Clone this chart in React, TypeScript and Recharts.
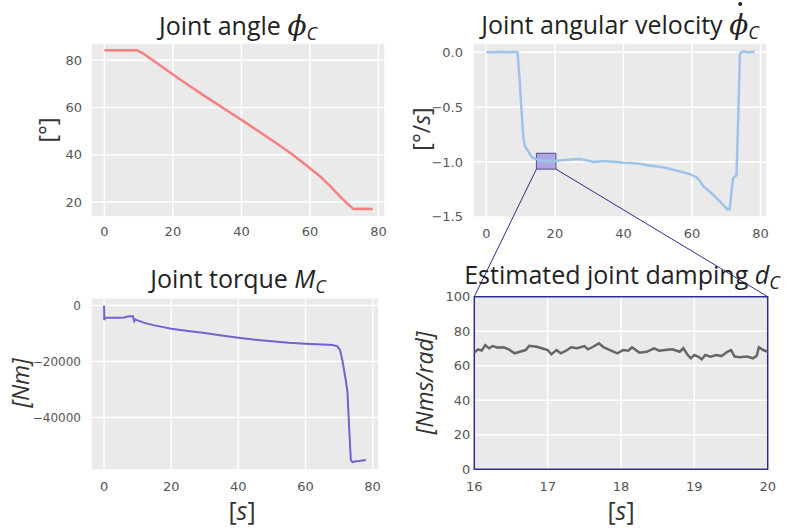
import React from 'react';
import { LineChart, Line, XAxis, YAxis, CartesianGrid, ReferenceArea } from 'recharts';

// ---- data ----
const angleT = [0, 4, 9.5, 11, 13, 15, 20, 25, 30, 35, 40, 45, 50, 55, 60, 63, 66, 69, 71, 72.7, 75, 78.3];
const angleDeg = [84.3, 84.3, 84.3, 83.2, 81.2, 79.2, 74, 69, 64.2, 59.5, 54.8, 50, 45.1, 40, 34.3, 30.8, 26.6, 22, 19.2, 17, 17.1, 17];

const velT = [0, 2, 4, 6, 8, 9.1, 9.6, 10.2, 10.8, 11.3, 12, 12.7, 13.5, 14.7, 16, 17, 18, 19, 20.5, 22, 24, 25.4, 27.3, 28.5, 30, 31.2, 33, 35, 36, 38, 40, 42, 44.8, 47, 49.7, 52, 54.5, 57, 59.4, 61.3, 62.2, 63.3, 65.2, 67.2, 69.1, 70.3, 71, 71.5, 72, 73, 73.5, 74, 75, 76.5, 78.3];
const velV = [0, 0, 0.005, 0, 0.005, 0, -0.2, -0.5, -0.78, -0.86, -0.89, -0.93, -0.96, -0.975, -0.985, -0.99, -0.985, -0.99, -0.99, -0.985, -0.98, -0.975, -0.972, -0.98, -0.99, -1.0, -0.995, -0.99, -0.995, -1.0, -1.006, -1.01, -1.015, -1.03, -1.04, -1.05, -1.07, -1.09, -1.11, -1.14, -1.17, -1.22, -1.27, -1.33, -1.39, -1.43, -1.43, -1.28, -1.15, -1.12, -0.59, -0.01, 0.01, 0, 0.005];

const torqueT = [0, 0.05, 0.3, 2, 4, 6, 7, 8, 8.6, 9, 9.3, 10, 12, 15, 20, 25, 30, 35, 40, 45, 50, 55, 60, 65, 68, 69.5, 70.3, 71, 72, 72.5, 73, 73.5, 74, 75, 76, 78];
const torqueNm = [0, -5200, -4400, -4400, -4400, -4300, -3900, -3800, -3800, -5600, -5000, -5300, -6200, -7100, -8300, -9100, -9850, -10700, -11500, -12200, -12800, -13300, -13650, -13900, -14100, -14600, -16000, -19600, -26700, -30900, -43400, -55200, -56000, -55700, -55600, -55200];

const dampT = [16, 16.05, 16.1, 16.15, 16.2, 16.25, 16.32, 16.4, 16.47, 16.55, 16.62, 16.7, 16.75, 16.85, 16.92, 17, 17.05, 17.12, 17.18, 17.25, 17.32, 17.4, 17.5, 17.55, 17.62, 17.7, 17.76, 17.85, 17.95, 18.03, 18.1, 18.15, 18.25, 18.35, 18.45, 18.52, 18.6, 18.7, 18.8, 18.85, 18.9, 18.95, 19, 19.05, 19.1, 19.15, 19.22, 19.3, 19.37, 19.45, 19.5, 19.55, 19.62, 19.72, 19.8, 19.85, 19.88, 19.94, 20];
const dampV = [67.6, 69.5, 68.8, 72, 70.1, 71.4, 70.5, 70.7, 69.5, 67.2, 68.1, 69.1, 71.6, 71, 70.1, 69.1, 66.6, 69.1, 67.2, 68.7, 70.7, 70.1, 71.4, 69.5, 71, 73, 70.7, 69.1, 67.2, 69.1, 68.7, 70.7, 67.6, 68.1, 70.1, 68.7, 69.1, 69.5, 68.1, 70.1, 66.8, 64.3, 66.2, 65.3, 63.7, 66.2, 65.3, 66.2, 65.6, 68.1, 69.1, 65.3, 64.9, 65.3, 64.3, 65.8, 70.7, 69.1, 68.1];

const timeTicks = [0, 20, 40, 60, 80];
const angleTicks = [20, 40, 60, 80];
const velTicks = [0, -0.5, -1, -1.5];
const torqueTicks = [0, -20000, -40000];
const zoomTimeTicks = [16, 17, 18, 19, 20];
const zoomTicks = [0, 20, 40, 60, 80, 100];

// zoom window drawn on the velocity plot
const zoomBoxT = [14.6, 20.3];
const zoomBoxV = [-1.065, -0.92];

const zip = (t: number[], v: number[]) => t.map((x, i) => ({ t: x, v: v[i] }));

const BG = '#EAEAEA';
const NAVY = '#2E2E8A';
const FONT = '"Open Sans", sans-serif';
const TICK = { fill: '#555', fontSize: 13, fontFamily: '"DejaVu Sans", sans-serif' };
const YW = 60;
const XH = 30;

type Frame = { left: number; top: number; width: number; height: number };
type Box = { x0: number; y0: number; x1: number; y1: number };

const frames: Record<string, Frame> = {
  tl: { left: 0, top: 0, width: 394, height: 260 },
  tr: { left: 394, top: 0, width: 395, height: 260 },
  bl: { left: 0, top: 260, width: 394, height: 268 },
  br: { left: 394, top: 260, width: 395, height: 268 },
};
const boxes: Record<string, Box> = {
  tl: { x0: 91, y0: 43, x1: 385, y1: 217 },
  tr: { x0: 473, y0: 43, x1: 767, y1: 218.5 },
  bl: { x0: 91, y0: 297.7, x1: 379, y1: 470 },
  br: { x0: 474.3, y0: 296.7, x1: 767.7, y1: 469.3 },
};
const timeDomain: [number, number] = [-3.9, 81.9];
const velDomain: [number, number] = [-1.515, 0.085];

const marginOf = (f: Frame, b: Box) => ({
  left: b.x0 - f.left - YW,
  top: b.y0 - f.top,
  right: f.left + f.width - b.x1,
  bottom: f.top + f.height - b.y1 - XH,
});

const minus = (s: string) => s.replace('-', '\u2212');

const Panel: React.FC<{ k: string; children: React.ReactNode; data: any[] }> = ({ k, children, data }) => {
  const f = frames[k];
  return (
    <div style={{ position: 'absolute', left: f.left, top: f.top }}>
      <LineChart width={f.width} height={f.height} data={data} margin={marginOf(f, boxes[k])}>
        {children}
      </LineChart>
    </div>
  );
};

const Title: React.FC<{ cx: number; base: number; children: React.ReactNode }> = ({ cx, base, children }) => (
  <div
    style={{
      position: 'absolute', left: cx, top: base - 22, transform: 'translateX(-50%)',
      fontFamily: FONT, fontSize: 25, lineHeight: 1, color: '#222', whiteSpace: 'nowrap',
    }}
  >
    {children}
  </div>
);

const Phi: React.FC<{ dot?: boolean }> = ({ dot }) => (
  <span style={{ position: 'relative', fontFamily: '"DejaVu Serif", serif', fontStyle: 'italic', fontSize: 28, lineHeight: 1 }}>
    {'\u03D5'}
    {dot && (
      <span
        style={{
          position: 'absolute', left: '58%', top: -6, width: 4, height: 4, marginLeft: -2,
          borderRadius: 2, background: '#222',
        }}
      />
    )}
  </span>
);
const Sub: React.FC<{ children: React.ReactNode }> = ({ children }) => (
  <span style={{ fontStyle: 'italic', fontSize: 18, verticalAlign: -5, lineHeight: 1 }}>{children}</span>
);

const YLabel: React.FC<{ cx: number; cy: number; children: React.ReactNode }> = ({ cx, cy, children }) => (
  <div
    style={{
      position: 'absolute', left: cx, top: cy, transform: 'translate(-50%, -50%) rotate(-90deg)',
      fontFamily: FONT, fontSize: 23, lineHeight: 1, color: '#333', whiteSpace: 'nowrap',
    }}
  >
    {children}
  </div>
);

const XLabel: React.FC<{ cx: number; cy: number }> = ({ cx, cy }) => (
  <div
    style={{
      position: 'absolute', left: cx, top: cy, transform: 'translate(-50%, -50%)',
      fontFamily: FONT, fontSize: 25, lineHeight: 0.8, color: '#333', whiteSpace: 'nowrap',
    }}
  >
    [<i>s</i>]
  </div>
);

// connector lines from the zoom window to the damping panel
const toPx = (v: number, d: [number, number], a: number, b: number) => a + ((v - d[0]) / (d[1] - d[0])) * (b - a);
const trB = boxes.tr;
const brB = boxes.br;
const zoomLeft = toPx(zoomBoxT[0], timeDomain, trB.x0, trB.x1);
const zoomRight = toPx(zoomBoxT[1], timeDomain, trB.x0, trB.x1);
const zoomBottom = toPx(zoomBoxV[0], [velDomain[1], velDomain[0]], trB.y0, trB.y1);

const grid = <CartesianGrid fill={BG} stroke="#fff" strokeWidth={1.5} strokeDasharray="" />;

export default function App() {
  return (
    <div style={{ position: 'absolute', left: 0, top: 0, width: 789, height: 528, background: '#fff', overflow: 'hidden' }}>
      <Panel k="tl" data={zip(angleT, angleDeg)}>
        {grid}
        <XAxis dataKey="t" type="number" domain={timeDomain} ticks={timeTicks} allowDataOverflow height={XH}
          axisLine={false} tickLine={false} tickSize={0} tickMargin={10} tick={TICK} />
        <YAxis type="number" domain={[13.65, 87.35]} ticks={angleTicks} allowDataOverflow width={YW}
          axisLine={false} tickLine={false} tickSize={0} tickMargin={9} tick={TICK} />
        <Line dataKey="v" stroke="#F77F7F" strokeWidth={2.5} dot={false} isAnimationActive={false} />
      </Panel>

      <Panel k="tr" data={zip(velT, velV)}>
        {grid}
        <XAxis dataKey="t" type="number" domain={timeDomain} ticks={timeTicks} allowDataOverflow height={XH}
          axisLine={false} tickLine={false} tickSize={0} tickMargin={10} tick={TICK} />
        <YAxis type="number" domain={velDomain} ticks={velTicks} allowDataOverflow width={YW}
          axisLine={false} tickLine={false} tickSize={0} tickMargin={10} tick={TICK}
          tickFormatter={(v: number) => minus(v.toFixed(1))} />
        <Line dataKey="v" stroke="#9DC3E8" strokeWidth={2.5} dot={false} isAnimationActive={false} />
        <ReferenceArea x1={zoomBoxT[0]} x2={zoomBoxT[1]} y1={zoomBoxV[0]} y2={zoomBoxV[1]}
          fill="#7B6FD6" fillOpacity={0.55} stroke={NAVY} strokeOpacity={0.8} strokeWidth={1} ifOverflow="visible" />
      </Panel>

      <Panel k="bl" data={zip(torqueT, torqueNm)}>
        {grid}
        <XAxis dataKey="t" type="number" domain={timeDomain} ticks={timeTicks} allowDataOverflow height={XH}
          axisLine={false} tickLine={false} tickSize={0} tickMargin={12} tick={TICK} />
        <YAxis type="number" domain={[-58800, 2800]} ticks={torqueTicks} allowDataOverflow width={YW}
          axisLine={false} tickLine={false} tickSize={0} tickMargin={10} tick={{ ...TICK, fontSize: 12 }}
          tickFormatter={(v: number) => minus(String(v))} />
        <Line dataKey="v" stroke="#6F63CF" strokeWidth={2} dot={false} isAnimationActive={false} />
      </Panel>

      <Panel k="br" data={zip(dampT, dampV)}>
        {grid}
        <XAxis dataKey="t" type="number" domain={[16, 20]} ticks={zoomTimeTicks} allowDataOverflow height={XH}
          axisLine={false} tickLine={false} tickSize={0} tickMargin={12} tick={TICK} />
        <YAxis type="number" domain={[0, 100]} ticks={zoomTicks} allowDataOverflow width={YW}
          axisLine={false} tickLine={false} tickSize={0} tickMargin={4} tick={TICK} />
        <Line dataKey="v" stroke="#666" strokeWidth={2.5} dot={false} isAnimationActive={false} />
        <ReferenceArea x1={16} x2={20} y1={0} y2={100} fill="none" stroke={NAVY} strokeWidth={1.5} ifOverflow="visible" />
      </Panel>

      <svg width={789} height={528} style={{ position: 'absolute', left: 0, top: 0, pointerEvents: 'none' }}>
        <line x1={zoomLeft} y1={zoomBottom} x2={brB.x0} y2={brB.y0} stroke={NAVY} strokeWidth={1} />
        <line x1={zoomRight} y1={zoomBottom} x2={brB.x1} y2={brB.y0} stroke={NAVY} strokeWidth={1} />
      </svg>

      <Title cx={238} base={34}>Joint angle <Phi /><Sub>C</Sub></Title>
      <Title cx={620} base={33}>Joint angular velocity <Phi dot /><Sub>C</Sub></Title>
      <Title cx={238} base={288}>Joint torque <i>M</i><Sub>C</Sub></Title>
      <Title cx={622} base={284}>Estimated joint damping <i>d</i><Sub>C</Sub></Title>

      <YLabel cx={47} cy={130}>[°]</YLabel>
      <YLabel cx={421} cy={129}>[°/<i>s</i>]</YLabel>
      <YLabel cx={20} cy={383}><i>[Nm]</i></YLabel>
      <YLabel cx={424} cy={383}><i>[Nms/rad]</i></YLabel>

      <XLabel cx={242} cy={510} />
      <XLabel cx={621} cy={510} />
    </div>
  );
}
